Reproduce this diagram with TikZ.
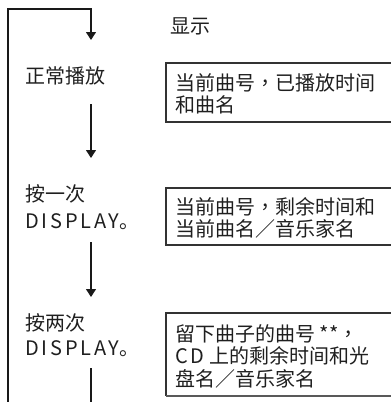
\documentclass[tikz,border=0pt]{standalone}
\usepackage{fontspec}
\setmainfont{Noto Sans CJK SC}
\newfontfamily\tcfont{Noto Sans CJK TC}
\newcommand\zc{{\tcfont ，}}
\newcommand\ls[1]{{\addfontfeature{LetterSpace=14}#1}}
\usetikzlibrary{arrows.meta}
\begin{document}
\begin{tikzpicture}[x=1pt,y=-1pt,
  txt/.style={anchor=base west,inner sep=0pt,text=black!88,font=\fontsize{20}{22.5}\selectfont},
  boxline/.style={draw=black!80,line width=1.1pt},
  flow/.style={draw=black!90,line width=1.2pt},
  arr/.style={flow,-{Triangle[length=8pt,width=10pt]}},
 ]
\useasboundingbox (0,0) rectangle (391,402);
% left column texts
\node[txt] (hdr) at (170,33) {显示};
\node[txt] (s1) at (25,83) {正常播放};
\node[txt] (s2a) at (25,201) {按一次};
\node[txt] (s2b) at (25,228) {\ls{DISPLAY}。};
\node[txt] (s3a) at (25,330) {按两次};
\node[txt] (s3b) at (25,355) {\ls{DISPLAY}。};
% boxes
\draw[boxline] (392,63) -| (166,122) -- (392,122);
\node[txt] (d1a) at (175,90) {当前曲号\zc 已播放时间};
\node[txt] (d1b) at (175,112.5) {和曲名};
\draw[boxline] (392,188) -| (166,245) -- (392,245);
\node[txt] (d2a) at (175,214) {当前曲号\zc 剩余时间和};
\node[txt] (d2b) at (175,236.5) {当前曲名／音乐家名};
\draw[boxline] (392,313) -| (166,396);
\draw[boxline,line width=1.8pt,draw=black!65] (166,396) -- (392,396);
\node[txt] (d3a) at (175,341) {留下曲子的曲号 **\zc};
\node[txt] (d3b) at (175,363.5) {\ls{CD} 上的剩余时间和光};
\node[txt] (d3c) at (175,386) {盘名／音乐家名};
% connectors
\coordinate (loopbot) at (8,403);
\coordinate (t1) at (91,40);
\coordinate (f1) at (91,104);
\coordinate (t2) at (91,158);
\coordinate (f2) at (91,242);
\coordinate (t3) at (91,297);
\coordinate (f3) at (91,368);
\coordinate (e3) at (91,403);
\draw[arr] (loopbot) |- (91,9) -- (t1);
\draw[arr] (f1) -- (t2);
\draw[arr] (f2) -- (t3);
\draw[flow] (f3) -- (e3);
\end{tikzpicture}
\end{document}
